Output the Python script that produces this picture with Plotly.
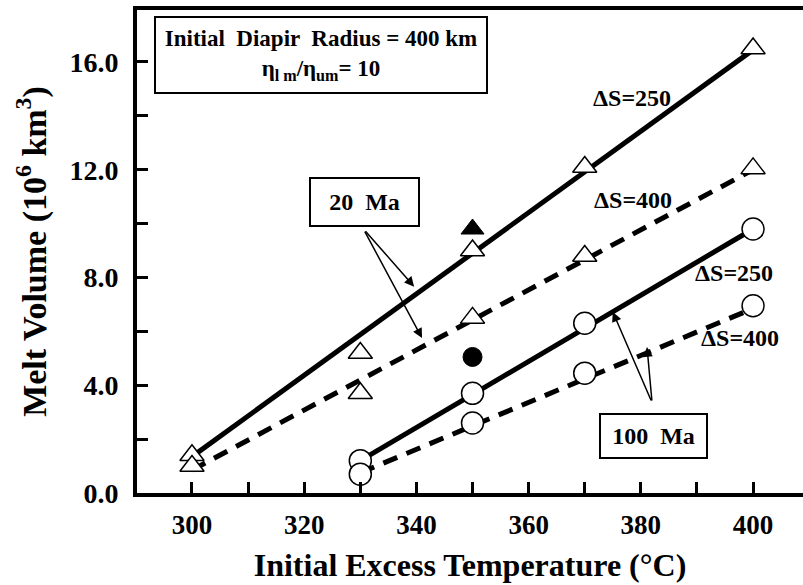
import plotly.graph_objects as go

# ---- data ----
t20_250 = [300, 330, 350, 370, 400]
v20_250 = [1.4, 5.2, 9.0, 12.1, 16.5]
t20_400 = [300, 330, 350, 370, 400]
v20_400 = [1.0, 3.7, 6.5, 8.8, 12.05]
t100_250 = [330, 350, 370, 400]
v100_250 = [1.2, 3.7, 6.3, 9.8]
t100_400 = [330, 350, 370, 400]
v100_400 = [0.7, 2.6, 4.45, 6.95]
filled_tri_t = [350]
filled_tri_v = [9.8]
filled_circ_t = [350]
filled_circ_v = [5.05]

# fitted straight lines (end points)
fit20_250_t = [300, 400]
fit20_250_v = [1.35, 16.45]
fit20_400_t = [300, 400]
fit20_400_v = [0.85, 12.0]
fit100_250_t = [330, 400]
fit100_250_v = [1.2, 9.8]
fit100_400_t = [330, 400]
fit100_400_v = [0.75, 6.85]

x_ticks = [300, 320, 340, 360, 380, 400]
y_ticks = [0, 4, 8, 12, 16]

FONT = "Liberation Serif"
BLACK = "black"

fig = go.Figure()

for tx, vy, dash in [(fit20_250_t, fit20_250_v, "solid"),
                     (fit20_400_t, fit20_400_v, "15px,10px"),
                     (fit100_250_t, fit100_250_v, "solid"),
                     (fit100_400_t, fit100_400_v, "15px,10px")]:
    fig.add_trace(go.Scatter(x=tx, y=vy, mode="lines",
                             line=dict(color=BLACK, width=5, dash=dash),
                             showlegend=False, hoverinfo="skip"))

tri = dict(symbol="triangle-up", size=21, color="white", line=dict(color=BLACK, width=1.5))
circ = dict(symbol="circle", size=22, color="white", line=dict(color=BLACK, width=1.5))

fig.add_trace(go.Scatter(x=t20_250, y=v20_250, mode="markers", marker=tri, showlegend=False))
fig.add_trace(go.Scatter(x=t20_400, y=v20_400, mode="markers", marker=tri, showlegend=False))
fig.add_trace(go.Scatter(x=t100_250, y=v100_250, mode="markers", marker=circ, showlegend=False))
fig.add_trace(go.Scatter(x=t100_400, y=v100_400, mode="markers", marker=circ, showlegend=False))
fig.add_trace(go.Scatter(x=filled_tri_t, y=filled_tri_v, mode="markers",
                         marker=dict(symbol="triangle-up", size=20, color=BLACK,
                                     line=dict(color=BLACK, width=1)), showlegend=False))
fig.add_trace(go.Scatter(x=filled_circ_t, y=filled_circ_v, mode="markers",
                         marker=dict(symbol="circle", size=19, color=BLACK,
                                     line=dict(color=BLACK, width=1)), showlegend=False))

afont = dict(family=FONT, size=24, color=BLACK)

annotations = [
    dict(x=323.0, y=16.26, xref="x", yref="y",
         text="<b>Initial  Diapir  Radius = 400 km<br>η<sub>l m</sub>/η<sub>um</sub>= 10</b>",
         showarrow=False, font=dict(family=FONT, size=23, color=BLACK),
         width=326, height=70, valign="middle",
         bordercolor=BLACK, borderwidth=2, borderpad=2, bgcolor="white", align="center"),
    dict(x=330.7, y=10.8, xref="x", yref="y", text="<b>20  Ma</b>", showarrow=False,
         font=afont, width=103, height=42, bordercolor=BLACK, borderwidth=2, borderpad=2,
         bgcolor="white"),
    dict(x=382.3, y=2.12, xref="x", yref="y", text="<b>100  Ma</b>", showarrow=False,
         font=afont, width=101, height=38, bordercolor=BLACK, borderwidth=2, borderpad=2,
         bgcolor="white"),
    dict(x=378.4, y=14.66, xref="x", yref="y", text="<b>ΔS=250</b>", showarrow=False, font=afont),
    dict(x=378.6, y=10.88, xref="x", yref="y", text="<b>ΔS=400</b>", showarrow=False, font=afont),
    dict(x=396.6, y=8.17, xref="x", yref="y", text="<b>ΔS=250</b>", showarrow=False, font=afont),
    dict(x=397.7, y=5.75, xref="x", yref="y", text="<b>ΔS=400</b>", showarrow=False, font=afont),
]
for (x, y, ax, ay) in [(339.6, 7.66, -50, -57), (341.0, 5.75, -58, -108),
                       (375.0, 6.72, 39, 90), (381.1, 5.42, 5, 55)]:
    annotations.append(dict(x=x, y=y, xref="x", yref="y", ax=ax, ay=ay,
                            text="", showarrow=True, arrowhead=2, arrowsize=1.3,
                            arrowwidth=1.5, arrowcolor=BLACK))

fig.update_layout(
    width=803, height=585,
    margin=dict(l=137, r=0, t=10, b=92),
    paper_bgcolor="white", plot_bgcolor="white",
    annotations=annotations,
    font=dict(family=FONT, color=BLACK),
)

fig.update_xaxes(
    range=[290.2, 408.9], showgrid=False, zeroline=False,
    showline=True, linecolor=BLACK, linewidth=4, mirror=True,
    tickmode="array", tickvals=x_ticks, ticktext=[f"<b>{v}</b>" for v in x_ticks],
    ticks="inside", ticklen=11, tickwidth=2.5, tickcolor=BLACK,
    minor=dict(dtick=10, tick0=300, ticks="inside", ticklen=11, tickwidth=2.5, tickcolor=BLACK),
    tickfont=dict(family=FONT, size=27, color=BLACK), ticklabelstandoff=5,
    title=dict(text="<b>Initial Excess Temperature (°C)</b>",
               font=dict(family=FONT, size=32, color=BLACK), standoff=15),
    automargin=False,
)
fig.update_yaxes(
    range=[0, 17.93], showgrid=False, zeroline=False,
    showline=True, linecolor=BLACK, linewidth=4, mirror=False,
    tickmode="array", tickvals=y_ticks, ticktext=[f"<b>{v:.1f}</b>" for v in y_ticks],
    ticks="inside", ticklen=11, tickwidth=2.5, tickcolor=BLACK,
    minor=dict(dtick=2, tick0=0, ticks="inside", ticklen=11, tickwidth=2.5, tickcolor=BLACK),
    tickfont=dict(family=FONT, size=28, color=BLACK), ticklabelstandoff=9,
    title=dict(text="<b>Melt Volume (10<sup>6</sup> km<sup>3</sup>)</b>",
               font=dict(family=FONT, size=34, color=BLACK), standoff=14),
    automargin=False,
)

fig.write_html("out.html")
